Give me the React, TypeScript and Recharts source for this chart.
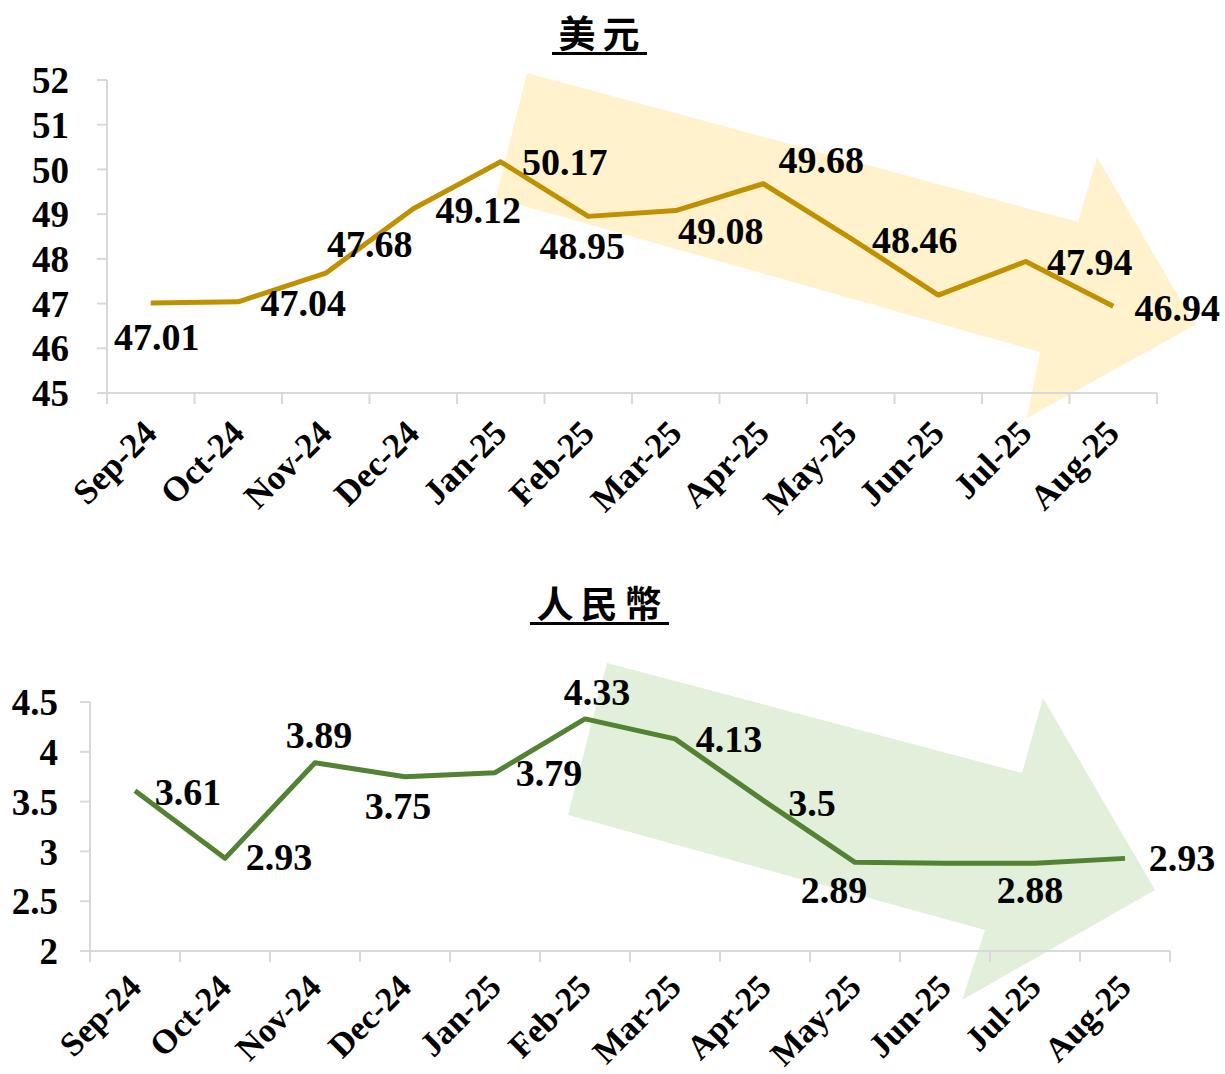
import React from 'react';
import { LineChart, Line, XAxis, YAxis } from 'recharts';

const months = ['Sep-24', 'Oct-24', 'Nov-24', 'Dec-24', 'Jan-25', 'Feb-25', 'Mar-25', 'Apr-25', 'May-25', 'Jun-25', 'Jul-25', 'Aug-25'];

// 美元
const usdValues = [47.01, 47.04, 47.68, 49.12, 50.17, 48.95, 49.08, 49.68, 48.46, 47.19, 47.94, 46.94];
const usdLabels = ['47.01', '47.04', '47.68', '49.12', '50.17', '48.95', '49.08', '49.68', '48.46', '', '47.94', '46.94'];
const usdTicks = [45, 46, 47, 48, 49, 50, 51, 52];

// 人民幣
const rmbValues = [3.61, 2.93, 3.89, 3.75, 3.79, 4.33, 4.13, 3.5, 2.89, 2.88, 2.88, 2.93];
const rmbLabels = ['3.61', '2.93', '3.89', '3.75', '3.79', '4.33', '4.13', '3.5', '2.89', '', '2.88', '2.93'];
const rmbTicks = [2, 2.5, 3, 3.5, 4, 4.5];

// where each data label sits relative to its point (centre offset)
const usdLabelPos = [[6, 34], [65, 1], [44, -29], [65, 1], [64, 0], [-6, 30], [45, 20], [58, -24], [64, 2], [0, 0], [64, 0], [64, 2]];
const rmbLabelPos = [[53, 1], [54, -1], [4, -28], [-7, 29], [54, 0], [12, -27], [54, 0], [47, 1], [-21, 28], [0, 0], [-5, 27], [57, 0]];

const usdData = months.map((m, i) => ({ month: m, value: usdValues[i] }));
const rmbData = months.map((m, i) => ({ month: m, value: rmbValues[i] }));

const FONT = "'Liberation Serif', 'Times New Roman', serif";
const AXIS = '#d9d9d9';

const makeTick = (step: number, count: number, drop: number, size: number) => (props: any) => {
  const { x, y, payload, index } = props;
  const tx = x + 8;
  const ty = y + drop;
  return (
    <g>
      <line x1={x - step / 2} x2={x - step / 2} y1={y} y2={y + 11} stroke={AXIS} strokeWidth={2} />
      {index === count - 1 && (
        <line x1={x + step / 2} x2={x + step / 2} y1={y} y2={y + 11} stroke={AXIS} strokeWidth={2} />
      )}
      <text
        x={tx}
        y={ty}
        transform={`rotate(-45, ${tx}, ${ty})`}
        textAnchor="end"
        fontFamily={FONT}
        fontWeight={700}
        fontSize={size}
        fill="#000"
      >
        {payload.value}
      </text>
    </g>
  );
};

const makeLabel = (texts: string[], pos: number[][]) => (props: any) => {
  const { x, y, index } = props;
  const t = texts[index];
  if (!t) return <g key={index} />;
  const [dx, dy] = pos[index];
  return (
    <text key={index} x={x + dx} y={y + dy + 13} textAnchor="middle" fontFamily={FONT} fontWeight={700} fontSize={38} fill="#000">
      {t}
    </text>
  );
};

function Title({ text, top }: { text: string; top: number }) {
  return (
    <div style={{ position: 'absolute', left: 0, top, width: 1198, textAlign: 'center' }}>
      <span
        style={{
          fontFamily: "'Noto Sans CJK TC', 'Noto Sans CJK SC', sans-serif",
          fontWeight: 700,
          fontSize: 37,
          letterSpacing: 7,
          paddingLeft: 7,
          lineHeight: '40px',
          borderBottom: '3px solid #000',
          display: 'inline-block',
        }}
      >
        {text}
      </span>
    </div>
  );
}

export default function App() {
  const usdStep = 1050 / months.length;
  const rmbStep = 1080 / months.length;
  return (
    <div style={{ position: 'absolute', left: 0, top: 0, width: 1225, height: 1074, background: '#fff' }}>
      <svg width={1225} height={1074} style={{ position: 'absolute', left: 0, top: 0 }}>
        <polygon points="527,73 1078,222 1097,157 1195,325 1027,418 1040,352 496,198" fill="#FFF2CC" />
        <polygon points="607,663 1022,773 1043,698 1155,890 962,1000 985,930 568,815" fill="#E2EFDA" />
      </svg>

      <Title text="美元" top={12} />
      <div style={{ position: 'absolute', left: 0, top: 0 }}>
        <LineChart width={1225} height={540} data={usdData} margin={{ top: 80, right: 68, left: 0, bottom: 0 }}>
          <XAxis
            dataKey="month"
            interval={0}
            height={147}
            tickSize={0}
            tickMargin={0}
            tickLine={false}
            axisLine={{ stroke: AXIS, strokeWidth: 2 }}
            padding={{ left: usdStep / 2, right: usdStep / 2 }}
            tick={makeTick(usdStep, months.length, 42, 35)}
          />
          <YAxis
            type="number"
            domain={[45, 52]}
            ticks={usdTicks}
            interval={0}
            width={107}
            tickSize={10}
            tickMargin={28}
            tickLine={{ stroke: AXIS, strokeWidth: 2 }}
            axisLine={{ stroke: AXIS, strokeWidth: 2 }}
            tick={{ fill: '#000', fontSize: 37, fontWeight: 700, fontFamily: FONT }}
          />
          <Line
            type="linear"
            dataKey="value"
            stroke="#BF9000"
            strokeWidth={5}
            strokeLinejoin="round"
            dot={false}
            isAnimationActive={false}
            label={makeLabel(usdLabels, usdLabelPos)}
          />
        </LineChart>
      </div>

      <Title text="人民幣" top={582} />
      <div style={{ position: 'absolute', left: 0, top: 540 }}>
        <LineChart width={1225} height={534} data={rmbData} margin={{ top: 162, right: 55, left: 0, bottom: 0 }}>
          <XAxis
            dataKey="month"
            interval={0}
            height={123}
            tickSize={0}
            tickMargin={0}
            tickLine={false}
            axisLine={{ stroke: AXIS, strokeWidth: 2 }}
            padding={{ left: rmbStep / 2, right: rmbStep / 2 }}
            tick={makeTick(rmbStep, months.length, 38, 34)}
          />
          <YAxis
            type="number"
            domain={[2, 4.5]}
            ticks={rmbTicks}
            interval={0}
            width={90}
            tickSize={10}
            tickMargin={22}
            tickLine={{ stroke: AXIS, strokeWidth: 2 }}
            axisLine={{ stroke: AXIS, strokeWidth: 2 }}
            tick={{ fill: '#000', fontSize: 37, fontWeight: 700, fontFamily: FONT }}
          />
          <Line
            type="linear"
            dataKey="value"
            stroke="#548235"
            strokeWidth={5}
            strokeLinejoin="round"
            dot={false}
            isAnimationActive={false}
            label={makeLabel(rmbLabels, rmbLabelPos)}
          />
        </LineChart>
      </div>
    </div>
  );
}
